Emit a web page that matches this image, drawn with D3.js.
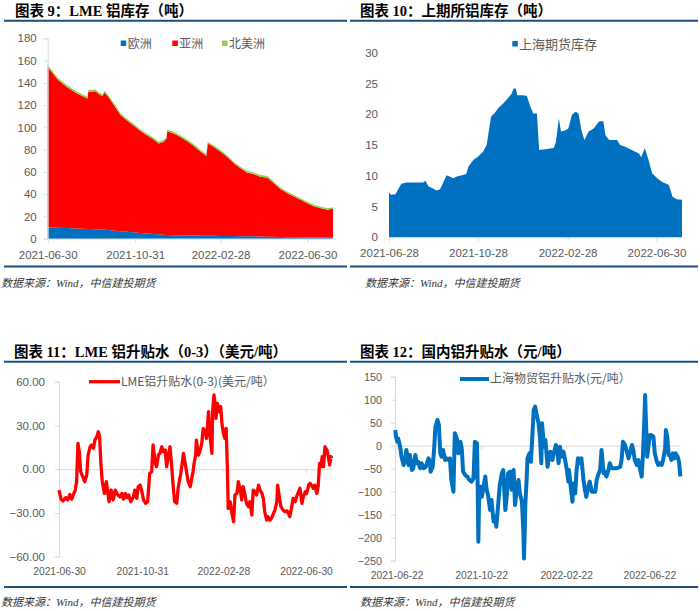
<!DOCTYPE html>
<html><head><meta charset="utf-8">
<script src="https://cdn.jsdelivr.net/npm/d3@7"></script>
<style>
body{margin:0;background:#fff;}
svg{display:block;}
</style></head><body>
<svg id="c" width="700" height="611"></svg>
<script>
// ---------- Chart 9: LME aluminium stocks (stacked area) ----------
const lmeStockDates = ["2021-06-30","2021-07-03","2021-07-15","2021-07-27","2021-08-10","2021-08-25","2021-08-26","2021-09-05","2021-09-11","2021-09-15","2021-09-18","2021-09-23","2021-10-03","2021-10-10","2021-10-19","2021-10-29","2021-11-07","2021-11-16","2021-11-26","2021-12-03","2021-12-10","2021-12-14","2021-12-15","2021-12-24","2022-01-02","2022-01-12","2022-01-21","2022-01-31","2022-02-08","2022-02-10","2022-02-18","2022-02-28","2022-03-09","2022-03-19","2022-03-28","2022-04-06","2022-04-16","2022-04-25","2022-05-05","2022-05-14","2022-05-23","2022-06-02","2022-06-11","2022-06-21","2022-06-30","2022-07-09","2022-07-19","2022-07-28","2022-08-05"];
const lmeEurope = [10.2,10.1,9.9,9.6,9.2,8.8,8.8,8.6,8.4,8.2,8.1,7.9,7.2,6.8,6.2,5.7,5.2,4.7,4.2,3.9,3.5,3.3,3.3,3.2,3.0,2.9,2.8,2.7,2.7,2.6,2.6,2.5,2.5,2.4,2.3,2.2,2.1,1.9,1.8,1.7,1.5,1.4,1.3,1.2,1.1,1.1,1.0,1.0,1.0];
const lmeAsia = [145.0,141.7,132.4,126.7,121.2,117.2,123.2,123.8,121.0,119.9,123.3,119.5,111.2,104.6,100.2,95.8,91.8,88.4,85.0,81.6,83.6,86.8,93.2,91.3,88.5,84.6,80.7,75.5,71.8,82.9,79.9,75.7,71.0,65.1,60.9,57.3,55.7,53.8,53.0,48.0,43.1,39.4,36.5,33.6,30.7,28.0,26.4,24.9,25.8];
const lmeNorthAmerica = [1.7,1.7,1.7,1.7,1.6,1.6,1.6,1.6,1.6,1.6,1.6,1.6,1.6,1.6,1.6,1.5,1.5,1.5,1.5,1.5,1.5,1.5,1.5,1.5,1.5,1.5,1.5,1.5,1.5,1.5,1.5,1.5,1.5,1.5,1.5,1.5,1.5,1.5,1.5,1.5,1.4,1.4,1.4,1.4,1.4,1.4,1.4,1.4,1.4];
const lmeStockSeries = ["欧洲","亚洲","北美洲"];
const lmeStockYTicks = [0,20,40,60,80,100,120,140,160,180];
const lmeStockXTicks = ["2021-06-30","2021-10-31","2022-02-28","2022-06-30"];

// ---------- Chart 10: SHFE aluminium stock ----------
const shfeDates = ["2021-06-28","2021-07-01","2021-07-07","2021-07-10","2021-07-15","2021-07-22","2021-08-07","2021-08-14","2021-08-17","2021-08-21","2021-08-28","2021-09-01","2021-09-06","2021-09-10","2021-09-15","2021-09-19","2021-09-24","2021-09-29","2021-10-06","2021-10-12","2021-10-15","2021-10-22","2021-10-28","2021-11-04","2021-11-09","2021-11-15","2021-11-20","2021-11-25","2021-12-02","2021-12-08","2021-12-13","2021-12-16","2021-12-19","2021-12-21","2021-12-27","2022-01-03","2022-01-08","2022-01-12","2022-01-17","2022-01-20","2022-01-28","2022-02-09","2022-02-12","2022-02-16","2022-02-19","2022-02-25","2022-03-01","2022-03-06","2022-03-11","2022-03-15","2022-03-19","2022-03-23","2022-03-29","2022-04-05","2022-04-12","2022-04-18","2022-04-21","2022-04-26","2022-05-07","2022-05-11","2022-05-18","2022-05-27","2022-06-06","2022-06-09","2022-06-14","2022-06-19","2022-06-24","2022-07-01","2022-07-08","2022-07-17","2022-07-22","2022-07-28","2022-08-04"];
const shfeStock = [7.25,6.9,7.0,7.7,8.7,8.9,8.9,8.9,9.2,8.3,7.9,7.6,7.8,8.8,10.1,9.9,9.6,9.9,10.1,10.3,11.5,12.6,13.1,13.9,15.0,19.6,20.2,21.0,21.8,22.6,23.3,24.2,24.2,23.1,23.1,23.0,21.2,20.1,20.1,14.2,14.3,14.5,15.5,19.3,17.2,17.4,17.7,19.9,20.4,20.1,17.4,15.8,17.2,17.7,18.8,18.9,16.6,15.8,15.8,15.0,14.7,14.2,13.6,13.0,14.5,12.6,10.4,9.6,9.0,8.5,6.6,6.2,6.1];
const shfeSeries = "上海期货库存";
const shfeYTicks = [0,5,10,15,20,25,30];
const shfeXTicks = ["2021-06-28","2021-10-28","2022-02-28","2022-06-30"];

// ---------- Chart 11: LME 0-3 spread ----------
const lmeSpreadDates = ["2021-06-30","2021-07-03","2021-07-06","2021-07-10","2021-07-13","2021-07-16","2021-07-19","2021-07-21","2021-07-24","2021-07-26","2021-07-28","2021-07-30","2021-08-01","2021-08-04","2021-08-07","2021-08-10","2021-08-12","2021-08-15","2021-08-17","2021-08-20","2021-08-22","2021-08-25","2021-08-27","2021-08-29","2021-08-31","2021-09-02","2021-09-05","2021-09-08","2021-09-12","2021-09-15","2021-09-18","2021-09-21","2021-09-25","2021-09-28","2021-10-01","2021-10-03","2021-10-06","2021-10-08","2021-10-11","2021-10-14","2021-10-18","2021-10-20","2021-10-23","2021-10-25","2021-10-28","2021-10-30","2021-11-02","2021-11-05","2021-11-08","2021-11-11","2021-11-14","2021-11-16","2021-11-19","2021-11-21","2021-11-24","2021-11-26","2021-11-29","2021-12-01","2021-12-04","2021-12-06","2021-12-09","2021-12-11","2021-12-13","2021-12-16","2021-12-18","2021-12-21","2021-12-23","2021-12-27","2021-12-31","2022-01-02","2022-01-07","2022-01-10","2022-01-14","2022-01-16","2022-01-18","2022-01-19","2022-01-22","2022-01-24","2022-01-27","2022-01-29","2022-02-01","2022-02-03","2022-02-06","2022-02-08","2022-02-11","2022-02-12","2022-02-14","2022-02-16","2022-02-17","2022-02-19","2022-02-22","2022-02-24","2022-02-26","2022-02-28","2022-03-02","2022-03-04","2022-03-06","2022-03-07","2022-03-10","2022-03-12","2022-03-15","2022-03-17","2022-03-20","2022-03-22","2022-03-25","2022-03-27","2022-03-29","2022-04-01","2022-04-03","2022-04-06","2022-04-08","2022-04-11","2022-04-13","2022-04-16","2022-04-18","2022-04-21","2022-04-23","2022-04-26","2022-04-28","2022-04-30","2022-05-03","2022-05-05","2022-05-08","2022-05-10","2022-05-13","2022-05-15","2022-05-18","2022-05-19","2022-05-22","2022-05-24","2022-05-27","2022-05-30","2022-06-02","2022-06-04","2022-06-06","2022-06-09","2022-06-11","2022-06-14","2022-06-16","2022-06-19","2022-06-21","2022-06-24","2022-06-26","2022-06-29","2022-07-01","2022-07-04","2022-07-06","2022-07-08","2022-07-11","2022-07-13","2022-07-16","2022-07-18","2022-07-20","2022-07-22","2022-07-24","2022-07-26","2022-07-28","2022-07-31","2022-08-02","2022-08-04","2022-08-06","2022-08-07"];
const lmeSpread = [-14.3,-20.5,-21.8,-19.5,-21,-17.3,-20.5,-17.7,-14.3,-8.6,17.7,12,-1.7,-5.1,-8.6,-4,9.7,15.4,16.6,14.3,20,22.3,25.7,22.3,2.9,-8.6,-16.6,-8.6,-22.3,-14.3,-21.1,-14.3,-17.7,-19,-16.6,-20.5,-16.6,-19.5,-17.7,-22.3,-19,-14.3,-20,-12,-10.9,-14.3,-21.1,-23.4,-22.3,-2.9,-1.7,16.6,5.1,1.7,9.7,10.9,15.4,12,13.1,1.7,10.9,15.4,5.1,-13.1,-22.3,-23.4,-13.1,-2.9,10.9,5.1,-8.6,-12,-1.7,5.1,9.7,20,9.7,12,17.7,28,25.7,21.1,39.4,23.4,10.9,39.4,50.9,44,34.9,45.1,39.4,42.9,30.3,24.6,21.1,28,-1.7,-26.9,-22.3,-29.1,-36,-17.7,-16.6,-8.6,-14.3,-21.1,-12,-17.7,-23.4,-25.7,-22.3,-31.4,-14.3,-15.4,-17.7,-10.9,-14.3,-16.6,-20,-29.1,-34.9,-32.6,-34.9,-33.7,-30.3,-28,-22.3,-10.9,-20,-25.7,-28,-29.1,-28.6,-30.3,-32.6,-25.7,-20,-22.3,-18.9,-15.4,-13.1,-23.4,-18.9,-15.4,-16.6,-10.9,-9.7,-10.9,-13.1,-10.9,-16.6,-12,4,1.7,8.6,1.7,15.4,13.1,8.6,2.9,8.6,7.4];
const lmeSpreadSeries = "LME铝升贴水(0-3)(美元/吨）";
const lmeSpreadYTicks = [-60,-30,0,30,60];
const lmeSpreadXTicks = ["2021-06-30","2021-10-31","2022-02-28","2022-06-30"];

// ---------- Chart 12: Shanghai spot premium ----------
const shSpotDates = ["2021-06-20","2021-06-21","2021-06-23","2021-06-24","2021-06-27","2021-06-29","2021-07-02","2021-07-04","2021-07-06","2021-07-09","2021-07-11","2021-07-14","2021-07-16","2021-07-19","2021-07-21","2021-07-23","2021-07-26","2021-07-28","2021-07-31","2021-08-03","2021-08-07","2021-08-09","2021-08-10","2021-08-13","2021-08-15","2021-08-17","2021-08-20","2021-08-22","2021-08-24","2021-08-26","2021-08-28","2021-08-31","2021-09-02","2021-09-05","2021-09-07","2021-09-09","2021-09-12","2021-09-14","2021-09-17","2021-09-19","2021-09-22","2021-09-24","2021-09-26","2021-09-29","2021-10-02","2021-10-05","2021-10-08","2021-10-11","2021-10-13","2021-10-16","2021-10-17","2021-10-18","2021-10-19","2021-10-21","2021-10-23","2021-10-25","2021-10-28","2021-10-30","2021-11-01","2021-11-04","2021-11-06","2021-11-09","2021-11-11","2021-11-13","2021-11-16","2021-11-18","2021-11-21","2021-11-23","2021-11-26","2021-11-28","2021-11-30","2021-12-03","2021-12-05","2021-12-08","2021-12-10","2021-12-12","2021-12-15","2021-12-17","2021-12-20","2021-12-22","2021-12-23","2021-12-25","2021-12-27","2021-12-28","2021-12-31","2022-01-02","2022-01-04","2022-01-06","2022-01-08","2022-01-10","2022-01-13","2022-01-15","2022-01-17","2022-01-18","2022-01-21","2022-01-23","2022-01-26","2022-01-28","2022-01-30","2022-02-02","2022-02-04","2022-02-07","2022-02-09","2022-02-11","2022-02-13","2022-02-15","2022-02-18","2022-02-20","2022-02-23","2022-02-25","2022-02-26","2022-02-28","2022-03-03","2022-03-04","2022-03-07","2022-03-09","2022-03-11","2022-03-14","2022-03-16","2022-03-19","2022-03-21","2022-03-23","2022-03-26","2022-03-28","2022-03-31","2022-04-05","2022-04-07","2022-04-09","2022-04-12","2022-04-14","2022-04-17","2022-04-19","2022-04-21","2022-04-24","2022-04-26","2022-04-29","2022-05-01","2022-05-06","2022-05-11","2022-05-13","2022-05-15","2022-05-18","2022-05-20","2022-05-23","2022-05-25","2022-05-28","2022-05-30","2022-06-01","2022-06-04","2022-06-06","2022-06-09","2022-06-11","2022-06-13","2022-06-15","2022-06-16","2022-06-17","2022-06-19","2022-06-21","2022-06-23","2022-06-25","2022-06-28","2022-06-30","2022-07-03","2022-07-05","2022-07-07","2022-07-10","2022-07-12","2022-07-15","2022-07-16","2022-07-18","2022-07-20","2022-07-22","2022-07-24","2022-07-26","2022-07-28","2022-07-30","2022-08-02","2022-08-04","2022-08-06"];
const shSpot = [34,19.6,8.7,16,-2.2,-24,-42,-31,-9.4,-42,-20,-53,-49,-20,-38,-35,-49,-38,-49,-46,-27.5,-35,-56.5,-46,-9.4,41,56,45,-16.7,-24,-9.4,-31,-27.5,-31,-27.5,-74.6,-100,26.8,16,-16.7,8.7,-5.8,-56.5,-63.8,-67,-74.6,-78,-71,8.7,5,-82,-209,-121.7,-89,-111,-92.8,-67,-96,-107,-140,-118,-165,-154,-176,-121.7,-85.5,-60,-53,-140,-111,-60,-56.5,-96,-53,-129,-103.6,-74.6,-103.6,-121.7,-183,-245,-125,-67,-27.5,-16.7,-35,19.6,77.5,84.8,70,48.6,19.6,-38,48.6,-2.2,12.3,-45.6,-24,-13,-31,-16.7,1.4,-9.4,-38,-2.2,-24,-13,-27.5,-53,-78,-53,-82,-121.7,-82,-103.6,-53,-27.5,-38,-27.5,-74.6,-96,-111,-89,-78,-100,-100,-74.6,-63.8,-53,-9.4,-60,-56.5,-67,-53,-38,-49,-49,-49,-46,-31,8.7,1.4,-9.4,-27.5,-16.7,1.4,-9.4,-31,-42,-31,-53,-67,-16.7,63,110,63,-24,1.4,23,23,19.6,-16.7,-35,-42,-38,-42,-31,-5.8,34,19.6,-20,-20,-31,-16.7,-27.5,-16.7,-24,-35,-67];
const shSpotSeries = "上海物贸铝升贴水(元/吨）";
const shSpotYTicks = [-250,-200,-150,-100,-50,0,50,100,150];
const shSpotXTicks = ["2021-06-22","2021-10-22","2022-02-22","2022-06-22"];

const chartTitles = ["图表 9：LME 铝库存（吨）","图表 10：上期所铝库存（吨）","图表 11：LME 铝升贴水（0-3）（美元/吨）","图表 12：国内铝升贴水（元/吨）"];
const sourceText = "数据来源：Wind，中信建投期货";

// ---------- drawing ----------
const parse = d3.timeParse("%Y-%m-%d");
const fmtDate = d3.timeFormat("%Y-%m-%d");
const svg = d3.select("#c");
const AXIS = "#d9d9d9", LABEL = "#595959", RULE = "#1f4e79";
const BLUE = "#0070C0", RED = "#FF0000", GREEN = "#92D050";
const TITLE_FONT = "'Liberation Serif','Noto Sans CJK SC',serif";
const NUM_FONT = "'Liberation Sans','Noto Sans CJK SC',sans-serif";
const CJK_FONT = "'Noto Sans CJK SC','Liberation Sans',sans-serif";

function frame(p) {
  const g = svg.append("g");
  g.append("text").attr("x", p.titleX).attr("y", p.titleY).text(p.title)
    .style("font-family", TITLE_FONT).style("font-weight", "bold").style("font-size", "14.5px").attr("fill", "#000");
  g.append("line").attr("x1", p.x0).attr("x2", p.x1).attr("y1", p.ruleY).attr("y2", p.ruleY)
    .attr("stroke", RULE).attr("stroke-width", 2);
  g.append("line").attr("x1", p.x0).attr("x2", p.x1).attr("y1", p.bottomY).attr("y2", p.bottomY)
    .attr("stroke", RULE).attr("stroke-width", 2);
  g.append("text").attr("x", p.srcX).attr("y", p.srcY).text(sourceText)
    .style("font-family", TITLE_FONT).style("font-style", "italic").style("font-size", "11px").attr("fill", "#333");
}

function styleAxis(g, size, showDomain) {
  g.select(".domain").attr("stroke", showDomain ? AXIS : "none");
  g.selectAll(".tick line").attr("stroke", AXIS);
  g.selectAll(".tick text").attr("fill", LABEL).style("font-family", NUM_FONT).style("font-size", size + "px");
}

// Chart 9
frame({title: chartTitles[0], titleX: 15, titleY: 15.5, x0: 4, x1: 347, ruleY: 20.7, bottomY: 266.5, srcX: 1, srcY: 287});
(function(){
  const dates = lmeStockDates.map(parse);
  const table = dates.map((d, i) => ({date: d, "欧洲": lmeEurope[i], "亚洲": lmeAsia[i], "北美洲": lmeNorthAmerica[i]}));
  const x = d3.scaleTime().domain(d3.extent(dates)).range([47.7, 333]);
  const y = d3.scaleLinear().domain([0, 180]).range([238.7, 38.3]);
  const colors = d3.scaleOrdinal().domain(lmeStockSeries).range([BLUE, RED, GREEN]);
  const stacked = d3.stack().keys(lmeStockSeries)(table);
  const area = d3.area().x(d => x(d.data.date)).y0(d => y(d[0])).y1(d => y(d[1]));
  svg.append("g").selectAll("path").data(stacked).join("path")
    .attr("d", area).attr("fill", d => colors(d.key));
  const ya = svg.append("g").attr("transform", "translate(47.7,0)")
    .call(d3.axisLeft(y).tickValues(lmeStockYTicks).tickSize(4).tickPadding(7));
  styleAxis(ya, 11.5, true);
  const xa = svg.append("g").attr("transform", "translate(0,238.7)")
    .call(d3.axisBottom(x).tickValues(lmeStockXTicks.map(parse)).tickFormat(fmtDate).tickSize(4).tickPadding(8).tickSizeOuter(0));
  styleAxis(xa, 11.5, true);
  // legend
  const lx = [120.7, 172.3, 222];
  lmeStockSeries.forEach((s, i) => {
    svg.append("rect").attr("x", lx[i]).attr("y", 40.5).attr("width", 5.5).attr("height", 5.5).attr("fill", colors(s));
    svg.append("text").attr("x", lx[i] + 7).attr("y", 47.5).text(s)
      .style("font-family", CJK_FONT).style("font-size", "12px").attr("fill", LABEL);
  });
})();

// Chart 10
frame({title: chartTitles[1], titleX: 360, titleY: 15.5, x0: 350, x1: 698, ruleY: 20.7, bottomY: 266.5, srcX: 365, srcY: 287});
(function(){
  const dates = shfeDates.map(parse);
  const x = d3.scaleTime().domain(d3.extent(dates)).range([389, 682]);
  const y = d3.scaleLinear().domain([0, 30]).range([237.3, 52.7]);
  const area = d3.area().x((d, i) => x(dates[i])).y0(y(0)).y1(d => y(d));
  svg.append("path").datum(shfeStock).attr("d", area).attr("fill", BLUE);
  const ya = svg.append("g").attr("transform", "translate(389,0)")
    .call(d3.axisLeft(y).tickValues(shfeYTicks).tickSize(0).tickPadding(11));
  styleAxis(ya, 11.5, false);
  const xa = svg.append("g").attr("transform", "translate(0,237.3)")
    .call(d3.axisBottom(x).tickValues(shfeXTicks.map(parse)).tickFormat(fmtDate).tickSize(4).tickPadding(8).tickSizeOuter(0));
  styleAxis(xa, 11.5, true);
  svg.append("rect").attr("x", 512.3).attr("y", 41).attr("width", 5.5).attr("height", 5.5).attr("fill", BLUE);
  svg.append("text").attr("x", 519).attr("y", 48.5).text(shfeSeries)
    .style("font-family", CJK_FONT).style("font-size", "13px").attr("fill", LABEL);
})();

// Chart 11
frame({title: chartTitles[2], titleX: 14, titleY: 357, x0: 4, x1: 347, ruleY: 361.7, bottomY: 587, srcX: 1, srcY: 605.5});
(function(){
  const dates = lmeSpreadDates.map(parse);
  const x = d3.scaleTime().domain(d3.extent(dates)).range([59, 331.7]);
  const y = d3.scaleLinear().domain([-60, 60]).range([556.7, 381.7]);
  const ya = svg.append("g").attr("transform", "translate(59,0)")
    .call(d3.axisLeft(y).tickValues(lmeSpreadYTicks).tickFormat(d3.format(".2f")).tickSize(4).tickPadding(10));
  styleAxis(ya, 11.5, true);
  const za = svg.append("g").attr("transform", `translate(0,${y(0)})`)
    .call(d3.axisBottom(x).tickValues(lmeSpreadXTicks.map(parse)).tickFormat("").tickSize(4).tickSizeOuter(0));
  styleAxis(za, 10, true);
  const xa = svg.append("g").attr("transform", "translate(0,556.7)")
    .call(d3.axisBottom(x).tickValues(lmeSpreadXTicks.map(parse)).tickFormat(fmtDate).tickSize(0).tickPadding(11));
  xa.select(".domain").remove();
  styleAxis(xa, 10.3, false);
  const line = d3.line().x((d, i) => x(dates[i])).y(d => y(d));
  svg.append("path").datum(lmeSpread).attr("d", line).attr("fill", "none")
    .attr("stroke", RED).attr("stroke-width", 3.3).attr("stroke-linejoin", "round");
  svg.append("line").attr("x1", 89).attr("x2", 120).attr("y1", 381.7).attr("y2", 381.7).attr("stroke", RED).attr("stroke-width", 3.3);
  svg.append("text").attr("x", 121).attr("y", 386).text(lmeSpreadSeries)
    .style("font-family", CJK_FONT).style("font-size", "12px").attr("fill", LABEL);
})();

// Chart 12
frame({title: chartTitles[3], titleX: 360, titleY: 357, x0: 350, x1: 698, ruleY: 361.7, bottomY: 587, srcX: 360, srcY: 605.5});
(function(){
  const dates = shSpotDates.map(parse);
  const x = d3.scaleTime().domain(d3.extent(dates)).range([395.3, 680.4]);
  const y = d3.scaleLinear().domain([-250, 150]).range([560.7, 376.7]);
  const ya = svg.append("g").attr("transform", "translate(395,0)")
    .call(d3.axisLeft(y).tickValues(shSpotYTicks).tickSize(4).tickPadding(9));
  styleAxis(ya, 10.8, true);
  const za = svg.append("g").attr("transform", `translate(0,${y(0)})`)
    .call(d3.axisBottom(x).tickValues(shSpotXTicks.map(parse)).tickFormat("").tickSize(4).tickSizeOuter(0));
  styleAxis(za, 10, true);
  const xa = svg.append("g").attr("transform", "translate(0,560.7)")
    .call(d3.axisBottom(x).tickValues(shSpotXTicks.map(parse)).tickFormat(fmtDate).tickSize(0).tickPadding(11));
  xa.select(".domain").remove();
  styleAxis(xa, 10.3, false);
  const line = d3.line().x((d, i) => x(dates[i])).y(d => y(d));
  svg.append("path").datum(shSpot).attr("d", line).attr("fill", "none")
    .attr("stroke", BLUE).attr("stroke-width", 4).attr("stroke-linejoin", "round");
  svg.append("line").attr("x1", 460).attr("x2", 489).attr("y1", 379).attr("y2", 379).attr("stroke", BLUE).attr("stroke-width", 4);
  svg.append("text").attr("x", 490).attr("y", 383.3).text(shSpotSeries)
    .style("font-family", CJK_FONT).style("font-size", "12px").attr("fill", LABEL);
})();
</script>
</body></html>
